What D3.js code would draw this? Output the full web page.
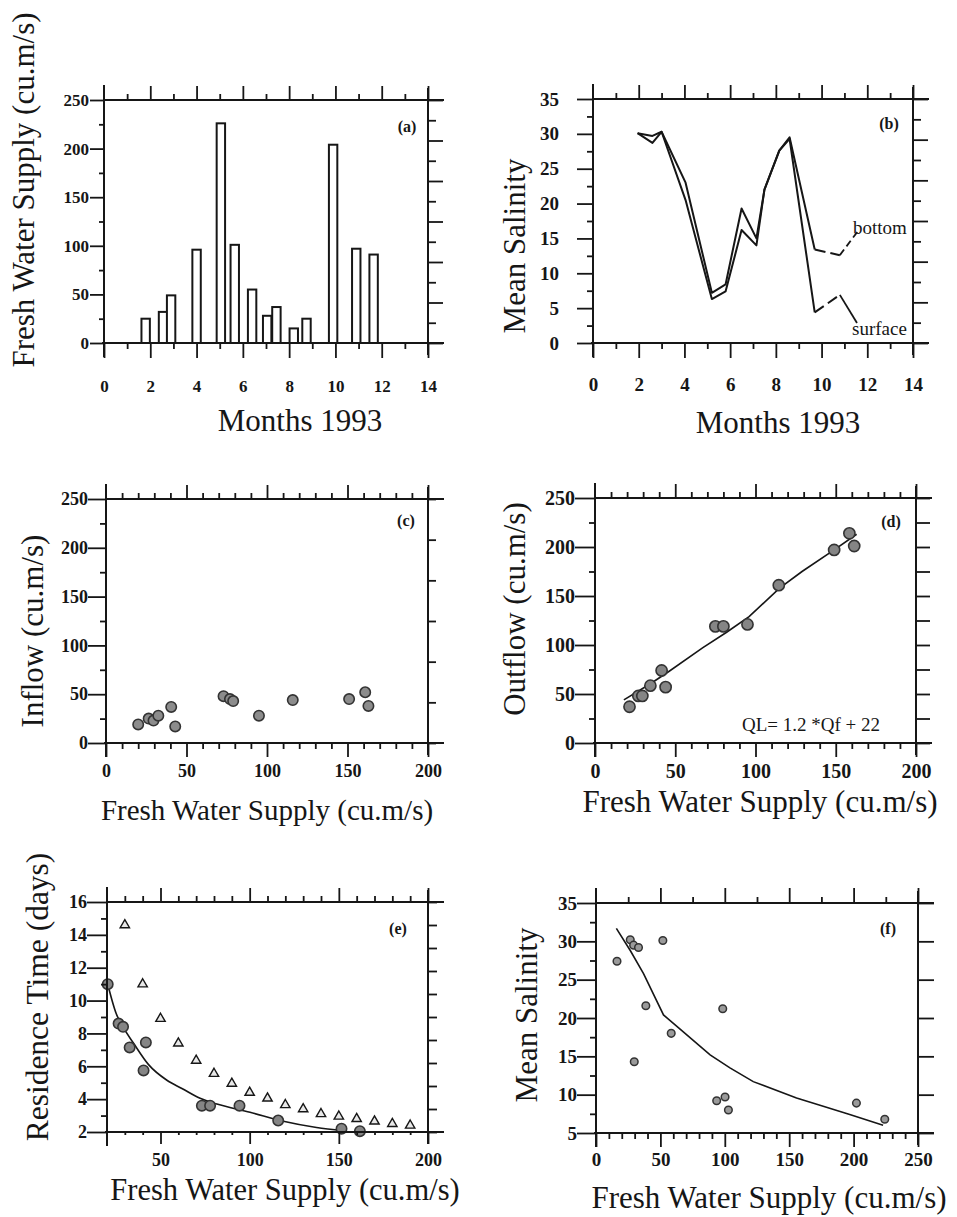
<!DOCTYPE html>
<html><head><meta charset="utf-8">
<script src="https://cdn.jsdelivr.net/npm/d3@7"></script>
<style>body{margin:0;background:#fff}</style>
</head><body>
<svg id="chart" width="957" height="1217"></svg>
<script>
// ---------- DATA ----------
// (a) fresh water supply bars
const monthsA = [1.8, 2.55, 2.9, 4.0, 5.05, 5.65, 6.4, 7.05, 7.45, 8.2, 8.75, 9.9, 10.9, 11.65];
const supplyA = [25, 32, 49, 96, 226, 101, 55, 28, 37, 15, 25, 204, 97, 91];
// (b) mean salinity, bottom & surface
const monthsB = [1.95, 2.6, 3.0, 4.05, 5.2, 5.8, 6.5, 7.15, 7.5, 8.15, 8.6, 9.7, 10.8];
const salBottom = [30.1, 29.7, 30.3, 23.0, 7.2, 8.4, 19.3, 15.0, 22.0, 27.6, 29.5, 13.4, 12.6];
const salSurface = [30.1, 28.7, 30.3, 20.5, 6.3, 7.4, 16.2, 14.0, 22.0, 27.6, 29.3, 4.4, 6.9];
// (c) inflow vs supply
const supplyC = [20, 26.5, 29.5, 32.5, 40.5, 43, 73, 77, 79, 95, 116, 151, 161, 163];
const inflowC = [19, 25, 23, 28, 37, 17, 48, 45, 43, 28, 44, 45, 52, 38];
// (d) outflow vs supply + fit
const supplyD = [21.5, 27, 29.5, 34.5, 41.5, 44, 75, 80, 95, 114.5, 149, 158.5, 161.5];
const outflowD = [37, 48, 48, 58.5, 74, 57, 119, 119, 121, 161, 197, 214, 201];
const fitDx = [18, 35, 46, 67, 82, 96, 115, 129, 149, 163];
const fitDy = [44, 61, 73, 97, 113, 129, 158, 175, 197, 213];
// (e) residence time
const supplyE = [20.4, 26.5, 29, 32.7, 41.8, 40.5, 73.2, 77.8, 94.3, 116, 151.5, 161.8];
const resE = [11.0, 8.6, 8.4, 7.15, 7.45, 5.75, 3.6, 3.6, 3.6, 2.7, 2.2, 2.05];
const fitEx = [20.4, 25.2, 28.4, 34.9, 43.3, 53.6, 62, 72.2, 81.6, 100.2, 118.9, 137.5, 152.5];
const fitEy = [11.0, 9.2, 8.5, 7.4, 6.1, 5.15, 4.65, 4.05, 3.7, 3.2, 2.65, 2.27, 2.08];
const triEx = [30, 40, 50, 60, 70, 80, 90, 100, 110, 120, 130, 140, 150, 160, 170, 180, 190];
const triEy = [14.6, 11.0, 8.9, 7.4, 6.35, 5.55, 4.95, 4.4, 4.05, 3.65, 3.4, 3.1, 2.95, 2.8, 2.65, 2.5, 2.4];
// (f) mean salinity vs supply
const supplyF = [16.3, 26.6, 29.2, 33, 29.7, 38.7, 51.9, 58.4, 93.7, 100.2, 102.8, 98.4, 202.2, 224.2];
const salF = [27.4, 30.2, 29.5, 29.2, 14.3, 21.6, 30.1, 18.0, 9.2, 9.7, 8.0, 21.2, 8.9, 6.8];
const fitFx = [15.8, 26.6, 36.9, 52.4, 62.8, 88.6, 104, 122.1, 155.7, 176.4, 197, 222.9];
const fitFy = [31.7, 28.8, 25.8, 20.4, 18.9, 15.2, 13.5, 11.7, 9.55, 8.5, 7.4, 6.0];

// tick labels
const monthTicks = [0, 2, 4, 6, 8, 10, 12, 14];
const flowTicks = [0, 50, 100, 150, 200, 250];
const salTicks = [0, 5, 10, 15, 20, 25, 30, 35];
const supplyTicks = [0, 50, 100, 150, 200];
const supplyTicksE = [50, 100, 150, 200];
const resTicks = [2, 4, 6, 8, 10, 12, 14, 16];
const salTicksF = [5, 10, 15, 20, 25, 30, 35];
const supplyTicksF = [0, 50, 100, 150, 200, 250];

// ---------- DRAWING ----------
const svg = d3.select('#chart');
const INK = '#161616';
const serif = '"Liberation Serif", "Times New Roman", serif';

function seg(x1, y1, x2, y2, w) {
  svg.append('line').attr('x1', x1).attr('y1', y1).attr('x2', x2).attr('y2', y2)
    .attr('stroke', INK).attr('stroke-width', w || 2);
}
function axTicks(fn, scale, vals, size, tx, ty) {
  const g = svg.append('g').attr('transform', `translate(${tx},${ty})`)
    .call(fn(scale).tickValues(vals).tickSize(size).tickFormat(''));
  g.select('.domain').remove();
  g.selectAll('line').attr('stroke', INK).attr('stroke-width', 1.8);
}
function axLabels(fn, scale, vals, pad, tx, ty, fs) {
  const g = svg.append('g').attr('transform', `translate(${tx},${ty})`)
    .call(fn(scale).tickValues(vals).tickSize(0).tickPadding(pad).tickFormat(d3.format('d')));
  g.select('.domain').remove();
  g.attr('font-size', null).attr('font-family', null);
  g.selectAll('text').style('font-family', serif).style('font-weight', 'bold')
    .style('font-size', fs + 'px').attr('fill', INK);
}
function title(txt, x, y, fs, rot, anchor) {
  const t = svg.append('text').text(txt).style('font-family', serif).style('font-size', fs + 'px')
    .attr('fill', INK).attr('text-anchor', anchor || 'middle');
  if (rot) t.attr('transform', `translate(${x},${y}) rotate(-90)`);
  else t.attr('x', x).attr('y', y);
  return t;
}
function tag(txt, x, y) {
  svg.append('text').text(txt).attr('x', x).attr('y', y).style('font-family', serif)
    .style('font-weight', 'bold').style('font-size', '16px').attr('fill', INK).attr('text-anchor', 'middle');
}
function frame(p) {
  seg(p.x0, p.yt - 15, p.x0, p.yb + 14);      // left
  seg(p.x0 - 2, p.yb, p.x1 + 16, p.yb);       // bottom
  seg(p.x0, p.yt, p.x1 + 16, p.yt);           // top
  seg(p.x1, p.yt - 12, p.x1, p.yb + 12);      // right
}
function stepVals(a, b, s) { const r = []; for (let v = a; v <= b + 1e-9; v += s) r.push(+v.toFixed(4)); return r; }
function rightAlt(p, y, n, longLen, shortLen) {
  const d = y.domain(); const step = (d[1] - d[0]) / n;
  const longs = [], shorts = [];
  for (let i = 0; i <= n; i++) { const v = d[1] - i * step; (i % 2 === 0 ? longs : shorts).push(v); }
  axTicks(d3.axisRight, y, longs, longLen, p.x1, 0);
  axTicks(d3.axisRight, y, shorts, shortLen, p.x1, 0);
}
function lineGen(x, y) { return d3.line().x(d => x(d[0])).y(d => y(d[1])); }

// ===== (a) =====
(function () {
  const p = { x0: 104, x1: 428, yt: 100, yb: 343 };
  const x = d3.scaleLinear().domain([0, 14]).range([p.x0, p.x1]);
  const y = d3.scaleLinear().domain([0, 250]).range([p.yb, p.yt]);
  svg.append('g').selectAll('rect').data(monthsA.map((m, i) => [m, supplyA[i]])).join('rect')
    .attr('x', d => x(d[0]) - 4.2).attr('width', 8.4)
    .attr('y', d => y(d[1])).attr('height', d => y(0) - y(d[1]))
    .attr('fill', '#fff').attr('stroke', INK).attr('stroke-width', 2);
  frame(p);
  axTicks(d3.axisLeft, y, flowTicks, 14, p.x0, 0);
  axTicks(d3.axisLeft, y, [25, 75, 125, 175, 225], 5, p.x0, 0);
  axLabels(d3.axisLeft, y, flowTicks, 15, p.x0, 0, 17);
  axTicks(d3.axisBottom, x, monthTicks, 15, 0, p.yb);
  axTicks(d3.axisBottom, x, [1, 3, 5, 7, 9, 11, 13], 6, 0, p.yb);
  axLabels(d3.axisBottom, x, monthTicks, 37, 0, p.yb, 17);
  axTicks(d3.axisTop, x, monthTicks.slice(1), 14, 0, p.yt);
  axTicks(d3.axisTop, x, [1, 3, 5, 7, 9, 11, 13], 6, 0, p.yt);
  rightAlt(p, y, 12, 15, 8);
  tag('(a)', 407, 132);
  title('Months 1993', 300, 431, 31);
  title('Fresh Water Supply (cu.m/s)', 34, 190, 31, true);
})();

// ===== (b) =====
(function () {
  const p = { x0: 593, x1: 913, yt: 99, yb: 343 };
  const x = d3.scaleLinear().domain([0, 14]).range([p.x0, p.x1]);
  const y = d3.scaleLinear().domain([0, 35]).range([p.yb, p.yt]);
  const lg = lineGen(x, y);
  const bot = monthsB.map((m, i) => [m, salBottom[i]]);
  const sur = monthsB.map((m, i) => [m, salSurface[i]]);
  const n = monthsB.length;
  [bot, sur].forEach(s => {
    svg.append('path').attr('d', lg(s.slice(0, n - 1))).attr('fill', 'none')
      .attr('stroke', INK).attr('stroke-width', 2).attr('stroke-linejoin', 'round');
    svg.append('path').attr('d', lg(s.slice(n - 2))).attr('fill', 'none')
      .attr('stroke', INK).attr('stroke-width', 2).attr('stroke-dasharray', '11,5');
  });
  // leaders to labels
  const lb = bot[n - 1], ls = sur[n - 1];
  svg.append('line').attr('x1', x(lb[0])).attr('y1', y(lb[1])).attr('x2', 858).attr('y2', 231)
    .attr('stroke', INK).attr('stroke-width', 1.8).attr('stroke-dasharray', '7,4');
  svg.append('line').attr('x1', x(ls[0])).attr('y1', y(ls[1])).attr('x2', 857).attr('y2', 323)
    .attr('stroke', INK).attr('stroke-width', 1.8);
  title('bottom', 853, 234, 19, false, 'start');
  title('surface', 852, 335, 19, false, 'start');
  frame(p);
  axTicks(d3.axisLeft, y, salTicks, 16, p.x0, 0);
  axTicks(d3.axisLeft, y, [2.5, 7.5, 12.5, 17.5, 22.5, 27.5, 32.5], 6, p.x0, 0);
  axLabels(d3.axisLeft, y, salTicks, 34, p.x0, 0, 19);
  axTicks(d3.axisBottom, x, monthTicks, 15, 0, p.yb);
  axTicks(d3.axisBottom, x, [1, 3, 5, 7, 9, 11, 13], 6, 0, p.yb);
  axLabels(d3.axisBottom, x, monthTicks, 35, 0, p.yb, 19);
  axTicks(d3.axisTop, x, monthTicks.slice(1), 14, 0, p.yt);
  axTicks(d3.axisTop, x, [1, 3, 5, 7, 9, 11, 13], 6, 0, p.yt);
  rightAlt(p, y, 12, 15, 8);
  tag('(b)', 889, 129);
  title('Months 1993', 778, 433, 31);
  title('Mean Salinity', 525, 246, 31, true);
})();

// ===== (c) =====
(function () {
  const p = { x0: 106, x1: 428, yt: 499, yb: 743 };
  const x = d3.scaleLinear().domain([0, 200]).range([p.x0, p.x1]);
  const y = d3.scaleLinear().domain([0, 250]).range([p.yb, p.yt]);
  svg.append('g').selectAll('circle').data(supplyC.map((s, i) => [s, inflowC[i]])).join('circle')
    .attr('cx', d => x(d[0])).attr('cy', d => y(d[1])).attr('r', 5.2)
    .attr('fill', '#8c8c8c').attr('stroke', '#333').attr('stroke-width', 1.6);
  frame(p);
  axTicks(d3.axisLeft, y, flowTicks, 18, p.x0, 0);
  axTicks(d3.axisLeft, y, [25, 75, 125, 175, 225], 6, p.x0, 0);
  axLabels(d3.axisLeft, y, flowTicks, 18, p.x0, 0, 18);
  axTicks(d3.axisBottom, x, supplyTicks, 14, 0, p.yb);
  axTicks(d3.axisBottom, x, stepVals(10, 190, 10).filter(v => v % 50), 6, 0, p.yb);
  axLabels(d3.axisBottom, x, supplyTicks, 21, 0, p.yb, 18);
  axTicks(d3.axisTop, x, [50, 100, 150, 200], 14, 0, p.yt);
  axTicks(d3.axisTop, x, stepVals(10, 190, 10).filter(v => v % 50), 6, 0, p.yt);
  axTicks(d3.axisRight, y, stepVals(0, 250, 250 / 6), 8, p.x1, 0);
  tag('(c)', 406, 526);
  title('Fresh Water Supply (cu.m/s)', 267, 820, 29);
  title('Inflow (cu.m/s)', 43, 631, 31, true);
})();

// ===== (d) =====
(function () {
  const p = { x0: 595, x1: 916, yt: 498, yb: 743 };
  const x = d3.scaleLinear().domain([0, 200]).range([p.x0, p.x1]);
  const y = d3.scaleLinear().domain([0, 250]).range([p.yb, p.yt]);
  svg.append('path').attr('d', lineGen(x, y)(fitDx.map((v, i) => [v, fitDy[i]])))
    .attr('fill', 'none').attr('stroke', INK).attr('stroke-width', 1.6);
  svg.append('g').selectAll('circle').data(supplyD.map((s, i) => [s, outflowD[i]])).join('circle')
    .attr('cx', d => x(d[0])).attr('cy', d => y(d[1])).attr('r', 5.6)
    .attr('fill', '#858585').attr('stroke', '#333').attr('stroke-width', 1.6);
  frame(p);
  axTicks(d3.axisLeft, y, flowTicks, 20, p.x0, 0);
  axTicks(d3.axisLeft, y, [25, 75, 125, 175, 225], 6, p.x0, 0);
  axLabels(d3.axisLeft, y, flowTicks, 20, p.x0, 0, 20);
  axTicks(d3.axisBottom, x, supplyTicks, 14, 0, p.yb);
  axTicks(d3.axisBottom, x, stepVals(10, 190, 10).filter(v => v % 50), 6, 0, p.yb);
  axLabels(d3.axisBottom, x, supplyTicks, 21, 0, p.yb, 20);
  axTicks(d3.axisTop, x, [50, 100, 150, 200], 14, 0, p.yt);
  axTicks(d3.axisTop, x, stepVals(10, 190, 10).filter(v => v % 50), 6, 0, p.yt);
  axTicks(d3.axisRight, y, stepVals(0, 250, 25), 14, p.x1, 0);
  tag('(d)', 891, 527);
  title('QL= 1.2 *Qf + 22', 811, 731, 19);
  title('Fresh Water Supply (cu.m/s)', 760, 812, 31);
  title('Outflow (cu.m/s)', 525, 609, 31, true);
})();

// ===== (e) =====
(function () {
  const p = { x0: 107, x1: 428, yt: 902, yb: 1132 };
  const x = d3.scaleLinear().domain([20, 200]).range([p.x0, p.x1]);
  const y = d3.scaleLinear().domain([2, 16]).range([p.yb, p.yt]);
  svg.append('path').attr('d', lineGen(x, y).curve(d3.curveMonotoneX)(fitEx.map((v, i) => [v, fitEy[i]])))
    .attr('fill', 'none').attr('stroke', INK).attr('stroke-width', 1.6);
  svg.append('g').selectAll('path').data(triEx.map((v, i) => [v, triEy[i]])).join('path')
    .attr('d', d3.symbol(d3.symbolTriangle).size(38))
    .attr('transform', d => `translate(${x(d[0])},${y(d[1])})`)
    .attr('fill', '#e8e8e8').attr('stroke', INK).attr('stroke-width', 1.4);
  svg.append('g').selectAll('circle').data(supplyE.map((s, i) => [s, resE[i]])).join('circle')
    .attr('cx', d => x(d[0])).attr('cy', d => y(d[1])).attr('r', 5.2)
    .attr('fill', '#858585').attr('stroke', '#333').attr('stroke-width', 1.6);
  frame(p);
  axTicks(d3.axisLeft, y, resTicks, 20, p.x0, 0);
  axTicks(d3.axisLeft, y, [3, 5, 7, 9, 11, 13, 15], 6, p.x0, 0);
  axLabels(d3.axisLeft, y, resTicks, 20, p.x0, 0, 18);
  axTicks(d3.axisBottom, x, supplyTicksE, 12, 0, p.yb);
  axTicks(d3.axisBottom, x, stepVals(30, 190, 10).filter(v => v % 50), 3, 0, p.yb);
  axLabels(d3.axisBottom, x, supplyTicksE, 21, 0, p.yb, 18);
  axTicks(d3.axisTop, x, supplyTicksE, 14, 0, p.yt);
  axTicks(d3.axisTop, x, stepVals(30, 190, 10).filter(v => v % 50), 6, 0, p.yt);
  axTicks(d3.axisRight, y, stepVals(2, 16, 1.4), 9, p.x1, 0);
  tag('(e)', 398, 934);
  title('Fresh Water Supply (cu.m/s)', 285, 1200, 30.5);
  title('Residence Time (days)', 48, 997, 31.5, true);
})();

// ===== (f) =====
(function () {
  const p = { x0: 596, x1: 918, yt: 903, yb: 1133 };
  const x = d3.scaleLinear().domain([0, 250]).range([p.x0, p.x1]);
  const y = d3.scaleLinear().domain([5, 35]).range([p.yb, p.yt]);
  svg.append('path').attr('d', lineGen(x, y)(fitFx.map((v, i) => [v, fitFy[i]])))
    .attr('fill', 'none').attr('stroke', INK).attr('stroke-width', 1.6);
  svg.append('g').selectAll('circle').data(supplyF.map((s, i) => [s, salF[i]])).join('circle')
    .attr('cx', d => x(d[0])).attr('cy', d => y(d[1])).attr('r', 3.8)
    .attr('fill', '#9a9a9a').attr('stroke', '#333').attr('stroke-width', 1.5);
  frame(p);
  axTicks(d3.axisLeft, y, salTicksF, 19, p.x0, 0);
  axTicks(d3.axisLeft, y, [7.5, 12.5, 17.5, 22.5, 27.5, 32.5], 6, p.x0, 0);
  axLabels(d3.axisLeft, y, salTicksF, 19, p.x0, 0, 19);
  axTicks(d3.axisBottom, x, supplyTicksF, 14, 0, p.yb);
  axTicks(d3.axisBottom, x, stepVals(10, 240, 10).filter(v => v % 50), 6, 0, p.yb);
  axLabels(d3.axisBottom, x, supplyTicksF, 20, 0, p.yb, 19);
  axTicks(d3.axisTop, x, [50, 100, 150, 200, 250], 15, 0, p.yt);
  axTicks(d3.axisTop, x, [25, 75, 125, 175, 225], 6, 0, p.yt);
  axTicks(d3.axisRight, y, salTicksF, 16, p.x1, 0);
  tag('(f)', 888, 934);
  title('Fresh Water Supply (cu.m/s)', 769, 1208, 31);
  title('Mean Salinity', 537, 1015, 31, true);
})();
</script>
</body></html>
